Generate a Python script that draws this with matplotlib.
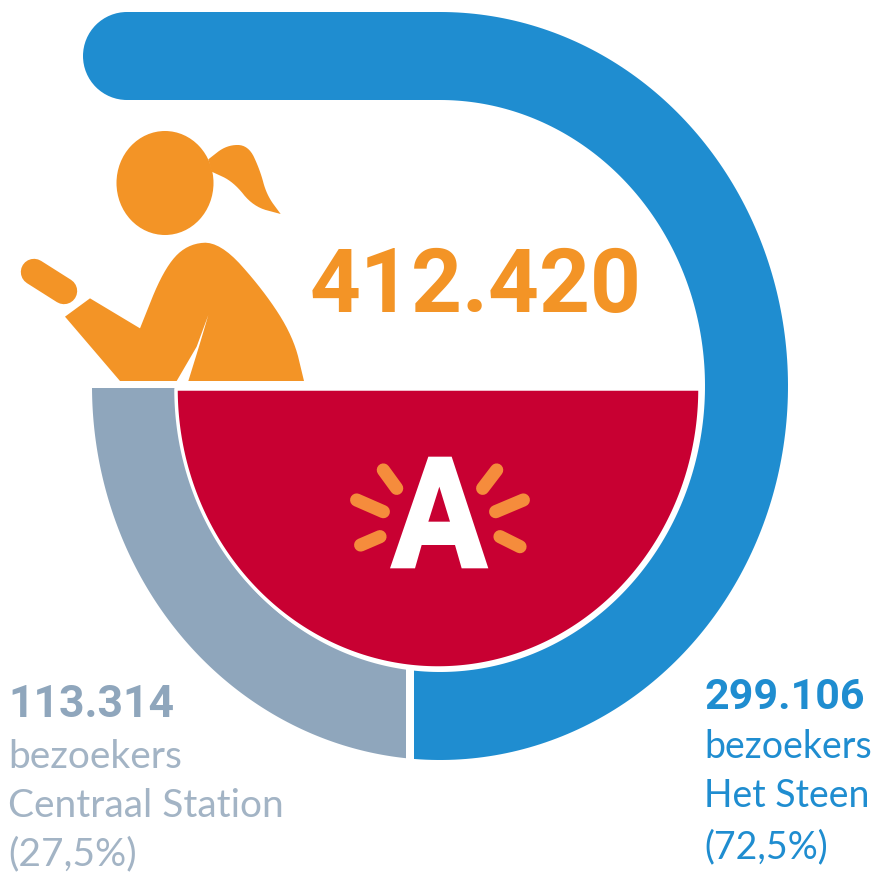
# Bezoekers donut / infographic
import numpy as np
import matplotlib
matplotlib.use('Agg')
import matplotlib.pyplot as plt
from matplotlib.patches import Ellipse, Polygon, Rectangle

# Data
total_label = '412.420'
left_lines = ['113.314', 'bezoekers', 'Centraal Station', '(27,5%)']
right_lines = ['299.106', 'bezoekers', 'Het Steen', '(72,5%)']

BLUE = '#1F8DD0'
GREY = '#8FA6BC'
RED = '#C80032'
ORANGE = '#F39426'
RAY = '#F58C3C'
TEXT_GREY = '#A3B4C5'

plt.rcParams['font.family'] = ['Lato', 'DejaVu Sans']

fig = plt.figure(figsize=(8.77, 8.76), dpi=100)
ax = fig.add_axes([0, 0, 1, 1])
ax.set_xlim(0, 877)
ax.set_ylim(876, 0)
ax.axis('off')


def ring(cx, cy, rx0, ry0, rx1, ry1, a0, a1):
    # ring piece between two ellipses, angles in degrees, y goes down
    t = np.radians(np.linspace(a0, a1, 200))
    outer = np.c_[cx + rx0 * np.cos(t), cy - ry0 * np.sin(t)]
    inner = np.c_[cx + rx1 * np.cos(t[::-1]), cy - ry1 * np.sin(t[::-1])]
    return np.vstack([outer, inner])


def smooth(points, rounds=3):
    # corner cutting, the two end points stay where they are
    pts = np.array(points, dtype=float)
    for _ in range(rounds):
        q = pts[:-1] * 0.75 + pts[1:] * 0.25
        r = pts[:-1] * 0.25 + pts[1:] * 0.75
        mid = np.empty((len(q) * 2, 2))
        mid[0::2] = q
        mid[1::2] = r
        pts = np.vstack([pts[0], mid, pts[-1]])
    return pts


# Blue ring with the straight bar on top
blue_arc = Polygon(ring(440, 386, 348, 374, 265, 286, -100, 90), color=BLUE, lw=0)
ax.add_patch(blue_arc)
blue_arc.set_clip_path(Rectangle((414, 0), 463, 876, transform=ax.transData))
ax.add_patch(Rectangle((127, 12), 314, 88, color=BLUE, lw=0))
ax.add_patch(Ellipse((127, 56), 88, 88, color=BLUE, lw=0))

# Grey quarter
grey_arc = Polygon(ring(440, 386, 348, 374, 265, 286, 180, 280), color=GREY, lw=0)
ax.add_patch(grey_arc)
grey_arc.set_clip_path(Rectangle((0, 388), 406, 488, transform=ax.transData))

# Red half
t = np.radians(np.linspace(180, 360, 200))
half = np.c_[438 + 262 * np.cos(t), 389 - 279 * np.sin(t)]
ax.add_patch(Polygon(half, facecolor=RED, edgecolor='white', lw=2.5, joinstyle='round'))


def icon(points, ox, oy, **kw):
    pts = np.array(points, dtype=float) / 3 + [ox, oy]
    ax.add_patch(Polygon(pts, lw=0, **kw))


# Person
ax.add_patch(Ellipse((165, 183), 97, 104, color=ORANGE, lw=0))
tail_top = smooth([(625, 118), (680, 75), (745, 75), (780, 150), (800, 225), (842, 282)])
tail_low = smooth([(842, 282), (760, 260), (700, 185), (635, 155)])
icon(np.vstack([tail_top, tail_low]), 0, 120, color=ORANGE)
ax.plot([34, 64], [272, 291], color=ORANGE, lw=19, solid_capstyle='round')
shoulder = smooth([(420, 625), (490, 450), (560, 372), (660, 365), (790, 510), (880, 650),
                   (912, 783)])
slit = smooth([(565, 783), (600, 670), (625, 585)], 2)
icon(np.vstack([[(195, 590), (270, 535)], shoulder, slit, [(590, 680), (530, 783), (360, 783)]]),
     0, 120, color=ORANGE)

# Logo
icon([(295, 50), (365, 50), (475, 385), (395, 385), (375, 315), (275, 315), (255, 385),
      (180, 385)], 330, 440, color='white')
icon([(328, 140), (360, 245), (295, 245)], 330, 440, color=RED)
rays = [((160, 90), (200, 145)), ((80, 180), (160, 215)), ((92, 315), (150, 290)),
        ((500, 90), (458, 145)), ((580, 180), (497, 215)), ((510, 290), (570, 320))]
for p, q in rays:
    ax.plot([p[0] / 3 + 330, q[0] / 3 + 330], [p[1] / 3 + 440, q[1] / 3 + 440],
            color=RAY, lw=9.5, solid_capstyle='round')

# Text
ax.text(476, 312, total_label, color=ORANGE, fontsize=64, fontweight='bold', ha='center',
        va='baseline', family=['Roboto', 'DejaVu Sans'])

for x, lines, col, bold_col, size, body, ys in [
    (8, left_lines, TEXT_GREY, GREY, 32, 28, [717, 768, 817, 865]),
    (704, right_lines, BLUE, BLUE, 31, 27, [709, 758, 807, 858]),
]:
    ax.text(x, ys[0], lines[0], color=bold_col, fontsize=size, fontweight='bold', va='baseline',
            family=['Roboto', 'DejaVu Sans'])
    for line, y in zip(lines[1:], ys[1:]):
        ax.text(x, y, line, color=col, fontsize=body, va='baseline')

fig.savefig('out.png', dpi=100)
